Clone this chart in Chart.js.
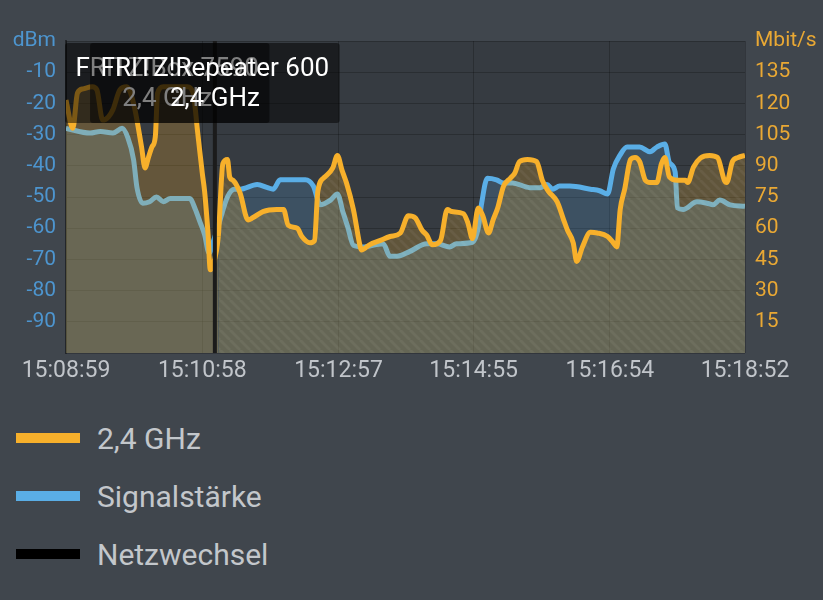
<!DOCTYPE html>
<html>
<head>
<meta charset="utf-8">
<script src="https://cdn.jsdelivr.net/npm/chart.js@4.4.1/dist/chart.umd.min.js"></script>
<style>
  body { margin: 0; background: #40464d; font-family: Roboto, sans-serif; }
  #wrap { position: relative; width: 823px; height: 600px; overflow: hidden; }
  #legend { position: absolute; left: 16px; top: 409px; }
  .item { display: flex; align-items: center; height: 58px; }
  .box { width: 64px; height: 10px; margin-right: 17px; }
  .item span { color: #c3c7cb; font-size: 30px; }
</style>
</head>
<body>
<div id="wrap">
  <canvas id="chart" width="823" height="400"></canvas>
  <div id="legend"></div>
</div>
<script>
// Zeitachse in Sekunden ab 15:08:59
const xTickSeconds = [0, 119, 238, 356, 475, 593];
const xTickLabels = ['15:08:59', '15:10:58', '15:12:57', '15:14:55', '15:16:54', '15:18:52'];

// Datenrate 2,4 GHz (Mbit/s)
const rateTime = [0, 6, 10, 15, 23, 27, 32, 37, 41, 47, 53, 59, 66, 69, 72, 75, 78, 80, 85, 93,
  106, 111, 115, 119, 121, 124, 126, 128, 133, 137, 141, 143, 146, 152, 159, 163, 172, 184, 190, 194,
  202, 206, 213, 217, 220, 226, 233, 237, 241, 245, 251, 257, 258, 265, 274, 283, 292, 299, 305, 311,
  315, 320, 327, 333, 337, 347, 351, 355, 360, 364, 369, 373, 377, 382, 388, 392, 396, 403, 411, 416,
  421, 429, 434, 438, 443, 446, 451, 458, 464, 473, 478, 481, 484, 488, 493, 497, 501, 506, 510, 516,
  520, 523, 527, 534, 541, 543, 548, 554, 562, 569, 575, 577, 582, 587, 593];
const rateMbit = [121.6, 108, 125, 127, 128, 126.5, 112, 113.5, 117, 126.5, 128, 120, 99, 89, 94, 99, 104, 125, 128, 128,
  128, 125, 106, 86.5, 78, 57.7, 40, 41.6, 56, 91, 93, 84.6, 83, 77, 64, 65, 68, 69, 69, 61.5,
  60, 56, 53, 54, 78, 84.6, 89, 95, 88, 81.7, 69, 51, 49.5, 52, 54, 56, 57.7, 66, 65, 59,
  56.7, 52, 54, 69, 68, 67, 62.5, 55, 69.7, 66, 57.7, 64, 69.7, 80, 84, 86.5, 92, 93, 92, 83,
  78, 72.6, 65, 59, 53, 44, 51, 58, 57.7, 56, 53, 51, 69, 79, 93, 94, 92, 83, 82, 82,
  91, 94, 84.6, 83, 83, 82, 89.4, 93.7, 95, 94, 83, 82, 92, 94, 95];

// Signalstärke (dBm)
const sigTime = [0, 21, 30, 41, 49, 54, 59, 62, 67, 73, 79, 85, 91, 108, 113, 117, 121, 125, 128, 134,
  141, 147, 152, 167, 176, 181, 187, 209, 216, 222, 231, 237, 242, 246, 251, 259, 277, 283, 289, 300,
  315, 324, 335, 341, 355, 360, 363, 368, 376, 382, 390, 405, 414, 420, 425, 431, 440, 458, 466, 473,
  478, 484, 490, 501, 510, 516, 523, 527, 532, 534, 539, 551, 560, 565, 571, 580, 593];
const sigDbm = [-28, -29.5, -29, -29.5, -28, -31, -38, -47, -52, -51.5, -50, -51.5, -50.5, -50.5, -54, -58, -62, -68, -65, -58,
  -50, -47.5, -47.5, -46, -47, -47.5, -44.5, -44.5, -46.5, -52.5, -51, -49, -55, -59.5, -65.5, -66, -65, -69, -69, -67.5,
  -65, -65, -66, -65, -64.5, -60, -52, -44, -44.5, -45.5, -45.5, -47, -47, -46, -47.5, -46.5, -46.5, -47.5, -48, -49,
  -41, -36.5, -34, -34, -35.5, -34, -33, -39, -42, -53.5, -54, -51.5, -52, -52.5, -51, -52.5, -53];

// Netzwechsel
const netzTime = 130;
const netzNames = ['FRITZ!Box 7590', 'FRITZ!Repeater 600'];
const netzStart = [0, 130];
const bandLabel = '2,4 GHz';

const orange = '#f7b02b';
const blue = '#5aaee6';

Chart.defaults.font.family = 'Roboto';

// Schraffur fuer den Repeater-Abschnitt
const pc = document.createElement('canvas');
pc.width = 10; pc.height = 10;
const p = pc.getContext('2d');
p.fillStyle = 'rgba(247,176,43,0.22)';
p.fillRect(0, 0, 10, 10);
p.strokeStyle = 'rgba(255,255,255,0.05)';
p.lineWidth = 3;
p.beginPath();
for (let o = -10; o <= 10; o += 10) { p.moveTo(o, 0); p.lineTo(o + 10, 10); }
p.stroke();
const hatch = p.createPattern(pc, 'repeat');

const plotBg = {
  id: 'plotBg',
  beforeDraw(chart) {
    const { ctx, chartArea: a } = chart;
    ctx.save();
    ctx.fillStyle = '#363b41';
    ctx.fillRect(a.left, a.top, a.right - a.left, a.bottom - a.top);
    ctx.restore();
  }
};

const netzBoxes = {
  id: 'netzBoxes',
  afterDraw(chart) {
    const { ctx, chartArea: a } = chart;
    const xs = chart.scales.x;
    ctx.save();
    ctx.font = '26px Roboto';
    ctx.textAlign = 'center';
    ctx.textBaseline = 'middle';
    netzNames.forEach((name, i) => {
      const w = Math.max(ctx.measureText(name).width, ctx.measureText(bandLabel).width) + 21;
      let left = xs.getPixelForValue(netzStart[i]) - w / 2;
      if (left < a.left - 1) left = a.left - 1;
      const top = a.top + 2;
      ctx.fillStyle = 'rgba(0,0,0,0.5)';
      ctx.beginPath();
      ctx.roundRect(left, top, w, 80, 3);
      ctx.fill();
      ctx.fillStyle = '#ffffff';
      ctx.fillText(name, left + w / 2, top + 26);
      ctx.fillText(bandLabel, left + w / 2, top + 56);
    });
    ctx.restore();
  }
};

const ctx = document.getElementById('chart').getContext('2d');
const myChart = new Chart(ctx, {
  type: 'line',
  data: {
    datasets: [{
      label: '2,4 GHz',
      data: rateTime.map((t, i) => ({ x: t, y: rateMbit[i] })),
      yAxisID: 'yRate',
      borderColor: orange,
      backgroundColor: 'rgba(247,176,43,0.24)',
      borderWidth: 5,
      pointRadius: 0,
      cubicInterpolationMode: 'monotone',
      fill: 'start',
      order: 0,
      segment: {
        backgroundColor: c => c.p0.parsed.x >= netzTime ? hatch : undefined
      }
    }, {
      label: 'Signalstärke',
      data: sigTime.map((t, i) => ({ x: t, y: sigDbm[i] })),
      yAxisID: 'yDbm',
      borderColor: blue,
      backgroundColor: 'rgba(90,170,230,0.2)',
      borderWidth: 5,
      pointRadius: 0,
      cubicInterpolationMode: 'monotone',
      fill: 'start',
      order: 1
    }, {
      label: 'Netzwechsel',
      data: [{ x: netzTime, y: -100 }, { x: netzTime, y: 0 }],
      yAxisID: 'yDbm',
      borderColor: '#1b1b1b',
      backgroundColor: '#000000',
      borderWidth: 4,
      pointRadius: 0,
      fill: false,
      order: -1
    }]
  },
  options: {
    responsive: false,
    animation: false,
    layout: { padding: { top: 41, left: 0, right: 0, bottom: 0 } },
    plugins: { legend: { display: false }, tooltip: { enabled: false } },
    scales: {
      x: {
        type: 'linear',
        min: 0,
        max: 593,
        afterBuildTicks: s => { s.ticks = xTickSeconds.map(v => ({ value: v })); },
        afterFit: s => { s.height = 47; },
        ticks: {
          autoSkip: false,
          maxRotation: 0,
          color: '#c1c5ca',
          font: { size: 23 },
          padding: 4,
          callback: (v, i) => xTickLabels[i]
        },
        grid: { color: 'rgba(0,0,0,0.22)', drawTicks: false },
        border: { display: false }
      },
      yDbm: {
        position: 'left',
        min: -100,
        max: 0,
        afterFit: s => { s.width = 66; },
        ticks: {
          stepSize: 10,
          color: '#4d95cf',
          font: { size: 21 },
          padding: 10,
          callback: v => v === 0 ? 'dBm' : (v === -100 ? '' : String(v))
        },
        grid: { color: 'rgba(0,0,0,0.22)', drawTicks: false },
        border: { color: 'rgba(0,0,0,0.45)', width: 2 }
      },
      yRate: {
        position: 'right',
        min: 0,
        max: 150,
        afterFit: s => { s.width = 78; },
        ticks: {
          stepSize: 15,
          color: '#e9a834',
          font: { size: 21 },
          padding: 10,
          callback: v => v === 150 ? 'Mbit/s' : (v === 0 ? '' : String(v))
        },
        grid: { display: false, drawTicks: false },
        border: { display: false }
      }
    }
  },
  plugins: [plotBg, netzBoxes]
});

// Legende untereinander
const legend = document.getElementById('legend');
myChart.data.datasets.forEach(ds => {
  const item = document.createElement('div');
  item.className = 'item';
  item.innerHTML = `<div class="box" style="background:${ds.label === 'Netzwechsel' ? '#000' : ds.borderColor}"></div><span>${ds.label}</span>`;
  legend.appendChild(item);
});
</script>
</body>
</html>
